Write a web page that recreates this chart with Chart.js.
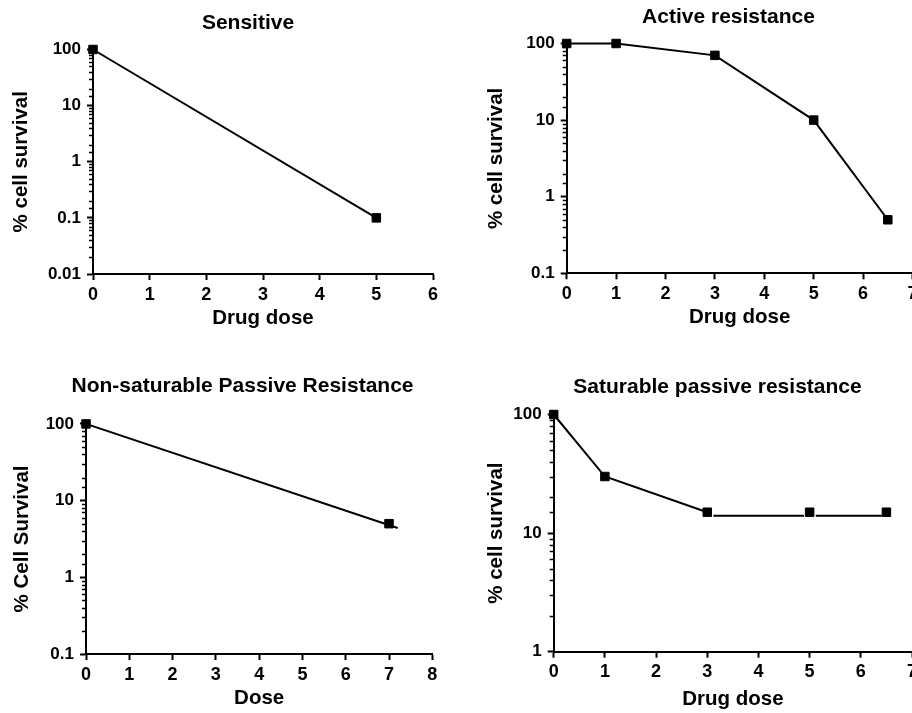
<!DOCTYPE html>
<html>
<head>
<meta charset="utf-8">
<script src="https://cdn.jsdelivr.net/npm/chart.js@4"></script>
<style>
  html, body { margin: 0; padding: 0; background: #fff; overflow: hidden; }
  #wrap { position: relative; width: 912px; height: 713px; overflow: hidden; }
  #wrap canvas { position: absolute; }
</style>
</head>
<body>
<div id="wrap">
  <canvas id="c1" width="496" height="340" style="left:0;top:0"></canvas>
  <canvas id="c2" width="545" height="340" style="left:456px;top:0"></canvas>
  <canvas id="c3" width="485" height="373" style="left:0;top:340px"></canvas>
  <canvas id="c4" width="523" height="373" style="left:456px;top:340px"></canvas>
</div>
<script>
// Sensitive
const doses1 = [0, 5];
const survival1 = [100, 0.1];
// Active resistance
const doses2 = [0, 1, 3, 5, 6.5];
const survival2 = [100, 100, 70, 10, 0.5];
// Non-saturable passive resistance (points + fitted line)
const doses3 = [0, 7];
const survival3 = [100, 5];
const fitDoses3 = [0, 7.2];
const fitSurvival3 = [100, 4.4];
// Saturable passive resistance
const doses4 = [0, 1, 3, 5, 6.5];
const survival4 = [100, 30, 15, 15, 15];
const curveDoses4 = [0, 1, 3];
const curveSurvival4 = [100, 30, 15];
const plateauDoses4 = [3.12, 4.89, 5, 5.12, 6.41];
const plateauSurvival4 = [14, 14, null, 14, 14];

const FONT = "'Liberation Sans', Arial, sans-serif";
const BLACK = '#000';

function isPow10(v) {
  const l = Math.log10(v);
  return Math.abs(l - Math.round(l)) < 1e-6;
}

function pts(xs, ys) {
  return xs.map((x, i) => ({x: x, y: ys[i]}));
}

// short minor ticks on the log axis
const minorTicks = {
  id: 'minorTicks',
  afterDraw(chart) {
    const y = chart.scales.y;
    const ctx = chart.ctx;
    const left = chart.chartArea.left;
    ctx.save();
    ctx.strokeStyle = BLACK;
    ctx.lineWidth = 1.5;
    y.ticks.forEach(t => {
      if (isPow10(t.value)) return;
      const py = Math.round(y.getPixelForValue(t.value)) + 0.5;
      ctx.beginPath();
      ctx.moveTo(left - 4, py);
      ctx.lineTo(left, py);
      ctx.stroke();
    });
    ctx.restore();
  }
};

function markers(data) {
  return {
    data: data, showLine: false, clip: false,
    pointStyle: 'rect', pointRadius: 6, pointHoverRadius: 6,
    pointBackgroundColor: BLACK, pointBorderColor: BLACK, pointBorderWidth: 1
  };
}
function line(data, withPoints) {
  return {
    data: data, borderColor: BLACK, borderWidth: 2, clip: false, spanGaps: false,
    pointStyle: 'rect', pointRadius: withPoints ? 6 : 0, pointHoverRadius: withPoints ? 6 : 0,
    pointBackgroundColor: BLACK, pointBorderColor: BLACK, pointBorderWidth: 1
  };
}

function panel(id, o) {
  return new Chart(document.getElementById(id), {
    type: 'line',
    data: { datasets: o.datasets },
    plugins: [minorTicks],
    options: {
      responsive: false,
      animation: false,
      events: [],
      layout: { padding: 0 },
      plugins: {
        legend: { display: false },
        tooltip: { enabled: false },
        title: {
          display: true, text: o.title, color: BLACK,
          font: { family: FONT, size: 21, weight: 'bold', lineHeight: 1.2 },
          padding: { top: o.titlePad[0], bottom: o.titlePad[1] }
        }
      },
      scales: {
        x: {
          type: 'linear', min: 0, max: o.xMax,
          afterFit: s => { s.height = o.xAxisH; },
          border: { color: BLACK, width: 2 },
          grid: { drawOnChartArea: false, tickLength: 6, tickColor: BLACK, tickWidth: 2 },
          ticks: { stepSize: 1, color: BLACK, padding: 4, autoSkip: false,
                   font: { family: FONT, size: 18, weight: 'bold' } },
          title: { display: true, text: o.xTitle, color: BLACK,
                   font: { family: FONT, size: 20.5, weight: 'bold', lineHeight: 1.2 },
                   padding: { top: 0, bottom: o.xTitlePad } }
        },
        y: {
          type: 'logarithmic', min: o.yMin, max: o.yMax,
          afterFit: s => { s.width = o.yAxisW; },
          border: { color: BLACK, width: 2 },
          grid: { drawOnChartArea: false, tickLength: 6, tickWidth: 2,
                  tickColor: c => (c.tick && isPow10(c.tick.value)) ? BLACK : 'rgba(0,0,0,0)' },
          ticks: { color: BLACK, padding: 6, autoSkip: false,
                   font: { family: FONT, size: 17, weight: 'bold' },
                   callback: v => isPow10(v) ? String(Number(v.toPrecision(6))) : '' },
          title: { display: true, text: o.yTitle, color: BLACK,
                   font: { family: FONT, size: 20.5, weight: 'bold', lineHeight: 1.2 },
                   padding: { top: o.yTitlePad, bottom: 0 } }
        },
        // empty right-hand box so the plot title sits over the plot, not the canvas
        spacer: {
          type: 'linear', position: 'right',
          afterFit: s => { s.width = o.rightW; },
          ticks: { display: false }, grid: { display: false, drawTicks: false },
          border: { display: false }
        }
      }
    }
  });
}

panel('c1', {
  title: 'Sensitive', titlePad: [11, 13.3],
  xTitle: 'Drug dose', yTitle: '% cell survival',
  xMax: 6, yMin: 0.01, yMax: 100,
  yAxisW: 93, xAxisH: 66, rightW: 63, xTitlePad: 9.5, yTitlePad: 9.3,
  datasets: [line(pts(doses1, survival1), true)]
});

panel('c2', {
  title: 'Active resistance', titlePad: [4.3, 14],
  xTitle: 'Drug dose', yTitle: '% cell survival',
  xMax: 7, yMin: 0.1, yMax: 100,
  yAxisW: 110.7, xAxisH: 66.7, rightW: 88.5, xTitlePad: 10.3, yTitlePad: 27.7,
  datasets: [line(pts(doses2, survival2), true)]
});

panel('c3', {
  title: 'Non-saturable Passive Resistance', titlePad: [34, 24.7],
  xTitle: 'Dose', yTitle: '% Cell Survival',
  xMax: 8, yMin: 0.1, yMax: 100,
  yAxisW: 86, xAxisH: 59, rightW: 52.7, xTitlePad: 2.5, yTitlePad: 10.3,
  datasets: [line(pts(fitDoses3, fitSurvival3), false), markers(pts(doses3, survival3))]
});

panel('c4', {
  title: 'Saturable passive resistance', titlePad: [34.3, 15],
  xTitle: 'Drug dose', yTitle: '% cell survival',
  xMax: 7, yMin: 1, yMax: 100,
  yAxisW: 97.7, xAxisH: 61.3, rightW: 67, xTitlePad: 1.1, yTitlePad: 27.7,
  datasets: [
    line(pts(curveDoses4, curveSurvival4), false),
    line(pts(plateauDoses4, plateauSurvival4), false),
    markers(pts(doses4, survival4))
  ]
});
</script>
</body>
</html>
